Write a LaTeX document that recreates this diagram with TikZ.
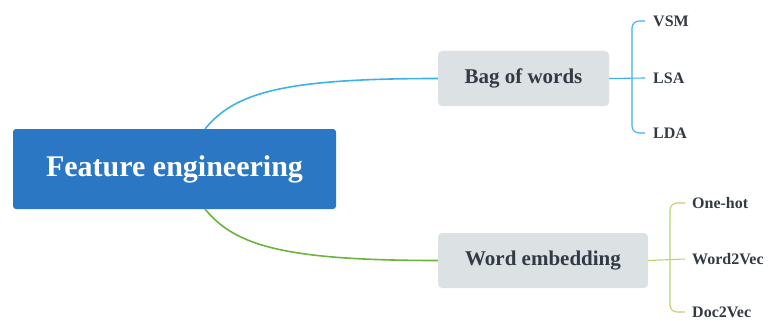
\documentclass[tikz,border=0pt]{standalone}
\usepackage{fontspec}
\setmainfont{Liberation Serif}
\usepackage{xcolor}
\usetikzlibrary{positioning}

\definecolor{rootblue}{HTML}{2B77C3}
\definecolor{boxgrey}{HTML}{DCE1E4}
\definecolor{textdark}{HTML}{323A44}
\definecolor{lineblue}{HTML}{3DB2EA}
\definecolor{linegreen}{HTML}{6BB33A}
\definecolor{bracegreen}{HTML}{B9D470}

\begin{document}
\begin{tikzpicture}[
    x=1pt, y=-1pt,
    root/.style={
      rounded corners=3pt,
      fill=rootblue,
      text=white,
      font=\bfseries\fontsize{30}{36}\selectfont,
      minimum width=323pt,
      minimum height=80pt
    },
    topic/.style={
      rounded corners=4pt,
      fill=boxgrey,
      text=textdark,
      font=\bfseries\fontsize{21}{25}\selectfont,
      minimum height=55pt
    },
    leaf/.style={
      anchor=west,
      inner xsep=2pt,
      inner ysep=1pt,
      text=textdark,
      font=\bfseries\fontsize{16}{19}\selectfont
    },
    branch/.style={
      line width=1.6pt
    },
    brace/.style={
      line width=1.1pt,
      rounded corners=7pt
    }
  ]

    \useasboundingbox (0,0) rectangle (768,321);

    % Main nodes
    \node[root] (feature) at (174.5,169) {Feature engineering};
    \node[topic, minimum width=171pt] (bow) at (523.5,78.5) {Bag of words};
    \node[topic, minimum width=210pt] (embed) at (543,260.5) {Word embedding};

    % Leaves
    \node[leaf] (vsm) at (651,21) {VSM};
    \node[leaf] (lsa) at (651,78) {LSA};
    \node[leaf] (lda) at (651,133) {LDA};
    \node[leaf] (onehot) at (690,203) {One-hot};
    \node[leaf] (wordvec) at (690,259) {Word2Vec};
    \node[leaf] (docvec) at (690,312) {Doc2Vec};

    % Branches
    \coordinate (bowstart) at (205,129);
    \coordinate (embstart) at (205,209);
    \draw[branch, lineblue] (bowstart)
      .. controls (235,92) and (285,78.5) .. (bow.west);
    \draw[branch, linegreen] (embstart)
      .. controls (235,246) and (285,260.5) .. (embed.west);

    % Braces
    \coordinate (bowjoint) at (632,78.5);
    \coordinate (embjoint) at (670,260.5);
    \draw[brace, lineblue] (bow.east) -- ([xshift=-6pt]lsa.west);
    \draw[brace, lineblue] (bowjoint) |- ([xshift=-6pt]vsm.west);
    \draw[brace, lineblue] (bowjoint) |- ([xshift=-6pt]lda.west);
    \draw[brace, bracegreen] (embed.east) -- ([xshift=-5pt]wordvec.west);
    \draw[brace, bracegreen] (embjoint) |- ([xshift=-5pt]onehot.west);
    \draw[brace, bracegreen] (embjoint) |- ([xshift=-5pt]docvec.west);

  \end{tikzpicture}
\end{document}
